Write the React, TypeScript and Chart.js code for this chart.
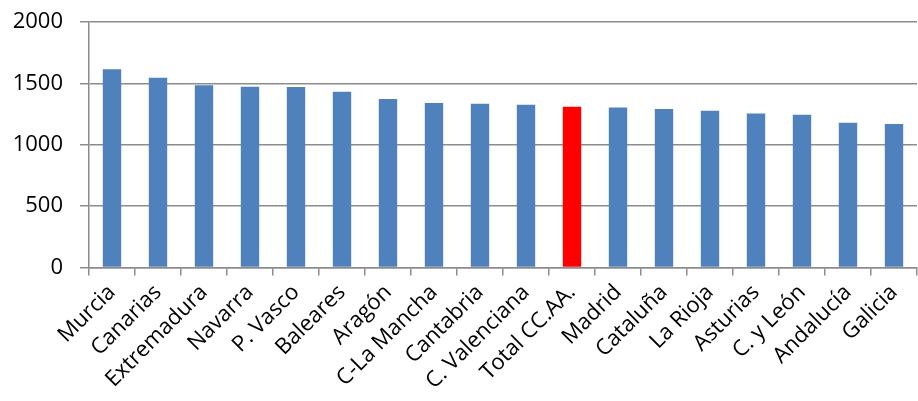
import React, { useEffect, useRef } from "react";
import { Chart, registerables } from "chart.js";

Chart.register(...registerables);

const regions = [
  "Murcia", "Canarias", "Extremadura", "Navarra", "P. Vasco", "Baleares",
  "Aragón", "C-La Mancha", "Cantabria", "C. Valenciana", "Total CC.AA.",
  "Madrid", "Cataluña", "La Rioja", "Asturias", "C. y León", "Andalucía", "Galicia",
];
const values = [
  1616, 1548, 1485, 1474, 1472, 1433, 1374, 1341, 1335, 1327, 1311,
  1305, 1292, 1278, 1256, 1245, 1180, 1169,
];
const highlight = "Total CC.AA.";
const yTicks = [0, 500, 1000, 1500, 2000];

const BLUE = "#4F81BD";
const RED = "#FF0000";
const GRID = "#8C8C8C";
const FONT = "'Open Sans', 'DejaVu Sans', sans-serif";

// canvas is a bit taller than the frame and pulled up, so the plot sits high
const W = 918;
const H = 409;
const SHIFT = 8;

export default function App() {
  const ref = useRef<HTMLCanvasElement>(null);

  useEffect(() => {
    document.body.style.margin = "0";
    const canvas = ref.current;
    if (!canvas) return;
    const chart = new Chart(canvas, {
      type: "bar",
      data: {
        labels: regions,
        datasets: [
          {
            data: values,
            backgroundColor: regions.map((r) => (r === highlight ? RED : BLUE)),
            borderWidth: 0,
            categoryPercentage: 1,
            barPercentage: 0.4,
          },
        ],
      },
      options: {
        animation: false,
        responsive: false,
        maintainAspectRatio: false,
        layout: { padding: { top: 10, right: 1, left: 0, bottom: 0 } },
        plugins: { legend: { display: false }, tooltip: { enabled: false } },
        scales: {
          x: {
            grid: {
              display: true,
              drawOnChartArea: false,
              drawTicks: true,
              tickLength: 8,
              color: GRID,
              lineWidth: 1.5,
              offset: true,
            },
            border: { display: true, color: GRID, width: 1.5 },
            ticks: {
              color: "#000",
              font: { family: FONT, size: 22 },
              minRotation: 45,
              maxRotation: 45,
              autoSkip: false,
              padding: 4,
            },
            afterFit: (scale: any) => {
              scale.height = H - SHIFT - 267.5;
            },
          },
          y: {
            min: 0,
            max: 2000,
            afterBuildTicks: (scale: any) => {
              scale.ticks = yTicks.map((v) => ({ value: v }));
            },
            grid: {
              color: GRID,
              lineWidth: 1.5,
              drawTicks: true,
              tickLength: 9,
            },
            border: { display: true, color: GRID, width: 1.5 },
            ticks: {
              color: "#000",
              font: { family: FONT, size: 22 },
              padding: 17,
              callback: (v: any) => String(v),
            },
            afterFit: (scale: any) => {
              scale.width = 89;
            },
          },
        },
      },
    });
    return () => chart.destroy();
  }, []);

  return (
    <div style={{ width: W, height: 401, overflow: "hidden" }}>
      <canvas
        ref={ref}
        width={W}
        height={H}
        style={{ display: "block", marginTop: -SHIFT }}
      />
    </div>
  );
}
